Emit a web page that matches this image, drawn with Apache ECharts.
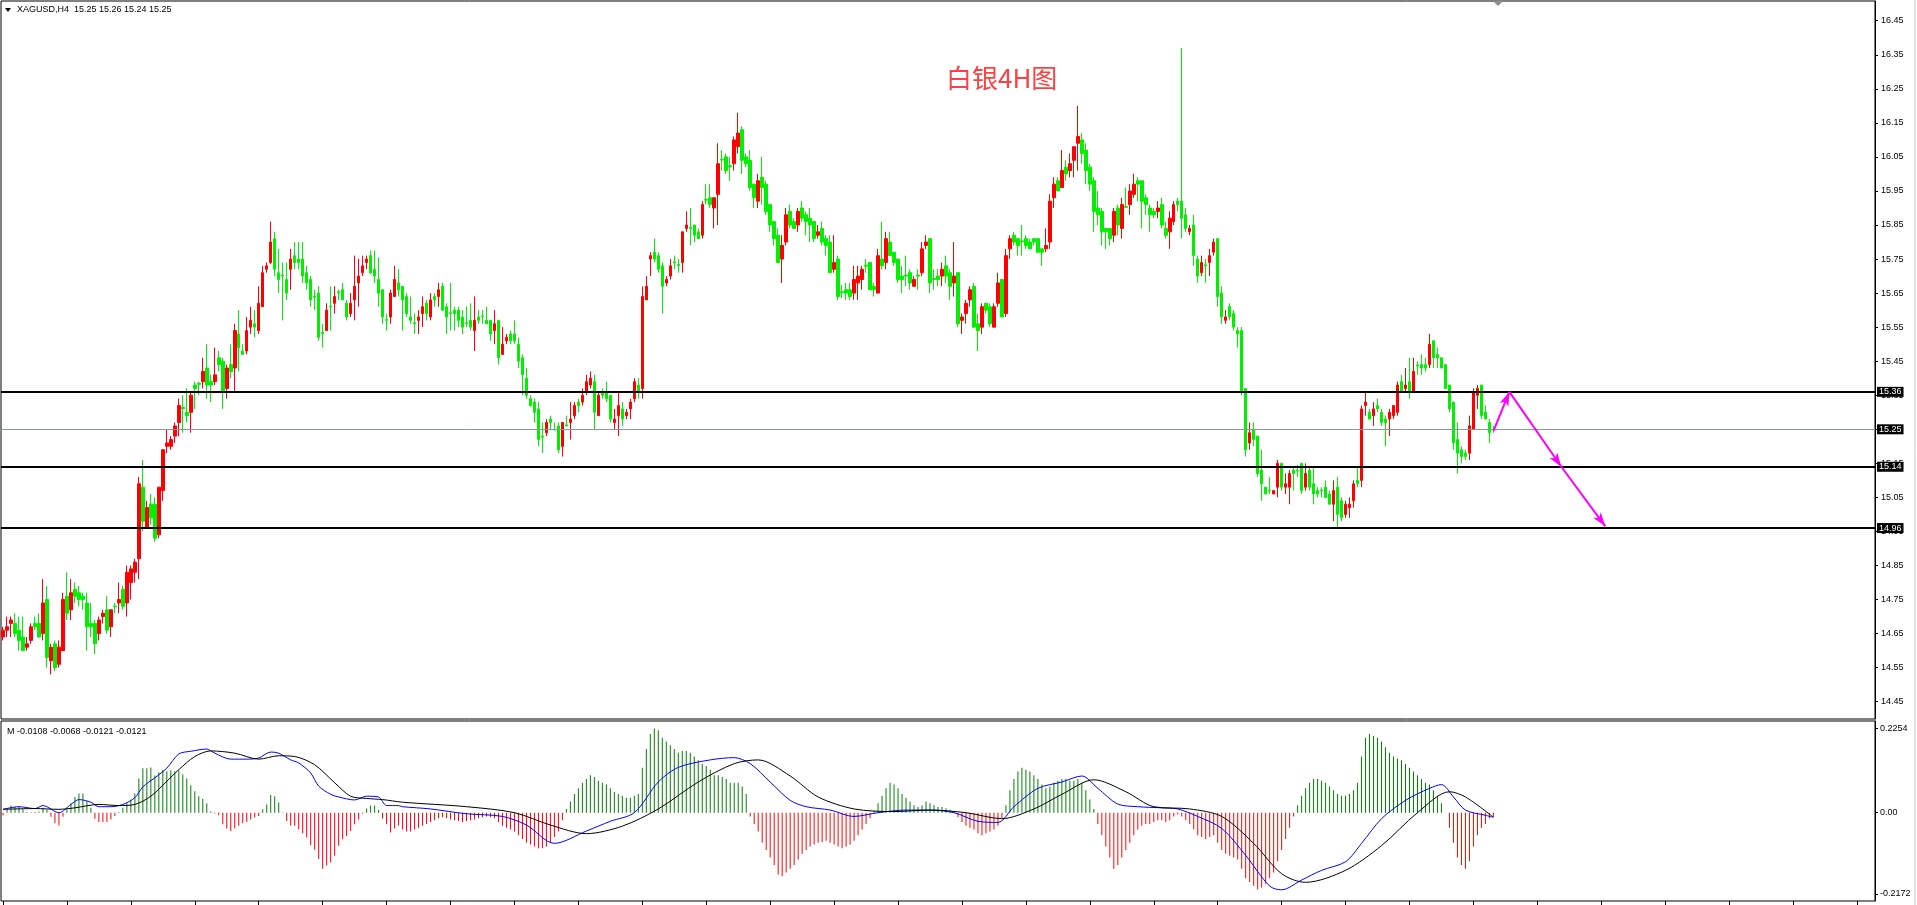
<!DOCTYPE html>
<html lang="zh-CN">
<head>
<meta charset="UTF-8" />
<title>XAGUSD H4</title>
<style>
  * { margin: 0; padding: 0; box-sizing: border-box; }
  #main { width: 1917px; height: 905px; background: #fff; }
</style>
</head>
<body>
<div id="main"></div>
<script src="https://cdn.jsdelivr.net/npm/echarts@6/dist/echarts.min.js"></script>
<script>
// 4H candles (oldest first)
const opens = [
  14.64,14.66,14.68,14.68,14.66,14.64,14.61,14.63,14.68,14.68,
  14.65,14.75,14.57,14.62,14.56,14.60,14.76,14.72,14.78,14.77,
  14.76,14.74,14.68,14.68,14.65,14.70,14.72,14.67,14.731,14.74,
  14.78,14.74,14.80,14.83,14.87,15.08,14.96,15.03,15.03,14.94,
  15.07,15.20,15.20,15.23,15.27,15.314,15.30,15.30,15.38,15.385,
  15.39,15.43,15.39,15.39,15.46,15.45,15.37,15.44,15.43,15.53,
  15.48,15.48,15.55,15.56,15.54,15.61,15.72,15.74,15.81,15.71,
  15.703,15.69,15.72,15.76,15.75,15.75,15.71,15.69,15.641,15.65,
  15.534,15.54,15.612,15.62,15.654,15.66,15.62,15.59,15.63,15.68,
  15.71,15.74,15.76,15.72,15.69,15.66,15.572,15.58,15.64,15.68,
  15.67,15.64,15.58,15.563,15.57,15.59,15.62,15.58,15.64,15.64,
  15.67,15.61,15.592,15.60,15.60,15.58,15.563,15.57,15.54,15.58,
  15.583,15.57,15.57,15.54,15.57,15.47,15.51,15.53,15.53,15.50,
  15.46,15.40,15.34,15.33,15.31,15.230,15.24,15.28,15.250,15.26,
  15.20,15.263,15.27,15.29,15.33,15.33,15.36,15.38,15.39,15.29,
  15.36,15.36,15.35,15.27,15.29,15.31,15.29,15.31,15.34,15.38,
  15.37,15.63,15.75,15.77,15.76,15.73,15.68,15.70,15.742,15.734,
  15.74,15.84,15.843,15.85,15.83,15.82,15.925,15.93,15.90,15.94,
  16.043,16.05,16.024,16.03,16.08,16.13,16.05,16.04,15.97,15.92,
  15.99,15.97,15.91,15.86,15.82,15.75,15.80,15.89,15.86,15.85,
  15.90,15.88,15.87,15.86,15.82,15.84,15.81,15.80,15.72,15.75,
  15.654,15.66,15.66,15.65,15.68,15.69,15.732,15.74,15.67,15.65,
  15.75,15.74,15.80,15.77,15.75,15.70,15.703,15.71,15.67,15.703,
  15.71,15.79,15.81,15.693,15.70,15.70,15.73,15.71,15.68,15.71,
  15.57,15.59,15.63,15.67,15.56,15.55,15.62,15.61,15.55,15.62,
  15.69,15.59,15.78,15.82,15.81,15.803,15.81,15.80,15.81,15.81,
  15.78,15.78,15.80,15.93,15.98,15.96,16.02,16.01,16.04,16.09,
  16.10,16.07,16.02,15.98,15.90,15.89,15.84,15.84,15.82,15.90,
  15.84,15.904,15.91,15.94,15.98,15.98,15.93,15.90,15.89,15.89,
  15.91,15.84,15.83,15.86,15.92,15.92,15.88,15.83,15.85,15.75,
  15.71,15.733,15.74,15.77,15.81,15.65,15.57,15.61,15.59,15.54,
  15.54,15.37,15.21,15.25,15.23,15.13,15.08,15.072,15.06,15.08,
  15.15,15.08,15.08,15.13,15.130,15.15,15.08,15.13,15.09,15.07,
  15.072,15.08,15.06,15.03,15.08,15.04,15.00,15.02,15.04,15.10,
  15.10,15.32,15.30,15.29,15.32,15.30,15.28,15.28,15.29,15.30,
  15.39,15.37,15.39,15.36,15.439,15.44,15.44,15.44,15.51,15.47,
  15.46,15.44,15.38,15.33,15.22,15.19,15.18,15.18,15.25,15.35,
  15.38,15.30,15.27,15.25
];
const closes = [
  14.66,14.67,14.69,14.65,14.63,14.60,14.62,14.67,14.67,14.64,
  14.74,14.58,14.61,14.55,14.61,14.75,14.71,14.77,14.76,14.75,
  14.75,14.67,14.67,14.62,14.69,14.71,14.66,14.72,14.729,14.75,
  14.73,14.83,14.84,14.86,15.09,14.98,15.02,14.99,14.93,15.08,
  15.19,15.21,15.22,15.26,15.32,15.311,15.29,15.35,15.37,15.382,
  15.42,15.38,15.38,15.41,15.44,15.36,15.43,15.42,15.54,15.49,
  15.47,15.54,15.57,15.55,15.62,15.71,15.73,15.80,15.72,15.69,
  15.700,15.65,15.75,15.74,15.74,15.70,15.68,15.63,15.638,15.52,
  15.531,15.60,15.610,15.64,15.651,15.63,15.58,15.62,15.67,15.70,
  15.73,15.75,15.71,15.70,15.65,15.58,15.570,15.65,15.69,15.66,
  15.63,15.59,15.57,15.560,15.58,15.61,15.59,15.63,15.63,15.66,
  15.60,15.58,15.590,15.59,15.57,15.55,15.561,15.55,15.57,15.57,
  15.581,15.56,15.53,15.56,15.46,15.50,15.52,15.51,15.51,15.45,
  15.41,15.35,15.32,15.30,15.22,15.227,15.27,15.27,15.248,15.19,
  15.27,15.260,15.28,15.32,15.32,15.35,15.39,15.40,15.30,15.35,
  15.35,15.34,15.28,15.28,15.32,15.28,15.30,15.33,15.39,15.36,
  15.64,15.67,15.76,15.75,15.72,15.67,15.69,15.73,15.739,15.731,
  15.83,15.85,15.840,15.82,15.81,15.91,15.923,15.91,15.93,16.03,
  16.041,16.01,16.021,16.10,16.12,16.04,16.03,15.96,15.93,15.98,
  15.96,15.89,15.85,15.81,15.74,15.79,15.88,15.85,15.84,15.89,
  15.87,15.86,15.85,15.81,15.83,15.80,15.79,15.71,15.74,15.64,
  15.651,15.65,15.64,15.69,15.70,15.72,15.729,15.66,15.66,15.76,
  15.73,15.81,15.76,15.74,15.69,15.69,15.700,15.68,15.69,15.700,
  15.78,15.80,15.68,15.690,15.69,15.72,15.70,15.67,15.70,15.56,
  15.58,15.62,15.66,15.55,15.54,15.61,15.60,15.56,15.61,15.68,
  15.58,15.76,15.81,15.80,15.79,15.801,15.79,15.78,15.80,15.77,
  15.77,15.79,15.92,15.97,15.95,16.01,16.00,16.03,16.08,16.11,
  16.06,16.01,15.97,15.89,15.88,15.83,15.83,15.81,15.89,15.85,
  15.91,15.902,15.95,15.97,15.97,15.92,15.91,15.88,15.88,15.90,
  15.85,15.82,15.87,15.91,15.91,15.87,15.84,15.84,15.76,15.70,
  15.74,15.730,15.76,15.80,15.64,15.58,15.58,15.58,15.55,15.53,
  15.36,15.19,15.24,15.22,15.12,15.09,15.06,15.070,15.07,15.15,
  15.08,15.09,15.12,15.12,15.128,15.07,15.12,15.08,15.06,15.06,
  15.070,15.05,15.03,15.07,15.00,14.99,15.03,15.03,15.09,15.09,
  15.31,15.33,15.28,15.31,15.31,15.27,15.27,15.30,15.32,15.38,
  15.36,15.38,15.36,15.42,15.436,15.43,15.43,15.50,15.46,15.46,
  15.43,15.37,15.31,15.21,15.18,15.17,15.17,15.26,15.36,15.37,
  15.29,15.28,15.24,15.25
];
const lows = [
  14.63,14.64,14.64,14.64,14.60,14.60,14.60,14.62,14.66,14.64,
  14.63,14.55,14.53,14.54,14.55,14.60,14.69,14.69,14.74,14.73,
  14.72,14.60,14.64,14.59,14.63,14.68,14.65,14.64,14.71,14.71,
  14.72,14.70,14.75,14.80,14.81,14.95,14.96,14.97,14.92,14.93,
  15.04,15.18,15.19,15.21,15.23,15.24,15.27,15.24,15.31,15.35,
  15.37,15.34,15.33,15.38,15.42,15.31,15.34,15.40,15.36,15.42,
  15.47,15.47,15.53,15.52,15.53,15.61,15.71,15.735,15.70,15.65,
  15.57,15.63,15.66,15.72,15.72,15.68,15.66,15.61,15.60,15.51,
  15.49,15.54,15.54,15.59,15.63,15.63,15.57,15.58,15.57,15.61,
  15.70,15.72,15.706,15.68,15.61,15.56,15.54,15.56,15.64,15.64,
  15.54,15.58,15.56,15.53,15.53,15.55,15.57,15.57,15.61,15.61,
  15.60,15.53,15.54,15.54,15.55,15.53,15.55,15.54,15.48,15.56,
  15.56,15.56,15.51,15.50,15.44,15.47,15.50,15.50,15.50,15.43,
  15.35,15.34,15.316,15.27,15.20,15.18,15.23,15.25,15.248,15.18,
  15.17,15.26,15.22,15.28,15.30,15.32,15.35,15.37,15.25,15.29,
  15.34,15.33,15.27,15.25,15.23,15.26,15.28,15.28,15.33,15.34,
  15.34,15.63,15.70,15.74,15.71,15.59,15.67,15.69,15.72,15.71,
  15.71,15.83,15.79,15.80,15.81,15.81,15.91,15.90,15.84,15.85,
  16.01,16.00,15.98,16.01,16.06,16.00,16.02,15.95,15.90,15.90,
  15.91,15.88,15.83,15.79,15.74,15.68,15.79,15.84,15.84,15.83,
  15.86,15.82,15.80,15.80,15.81,15.79,15.76,15.71,15.71,15.63,
  15.635,15.63,15.63,15.63,15.63,15.66,15.71,15.66,15.64,15.65,
  15.72,15.72,15.76,15.73,15.68,15.65,15.67,15.66,15.67,15.66,
  15.70,15.78,15.65,15.66,15.67,15.67,15.68,15.63,15.64,15.55,
  15.53,15.56,15.61,15.55,15.48,15.53,15.59,15.55,15.55,15.61,
  15.58,15.58,15.75,15.79,15.76,15.76,15.78,15.78,15.79,15.77,
  15.73,15.77,15.78,15.90,15.95,15.96,15.98,15.99,15.99,16.01,
  16.03,15.97,15.95,15.83,15.85,15.79,15.78,15.79,15.80,15.82,
  15.81,15.90,15.88,15.93,15.92,15.84,15.88,15.83,15.87,15.87,
  15.84,15.81,15.78,15.85,15.89,15.81,15.83,15.82,15.73,15.68,
  15.70,15.68,15.70,15.76,15.61,15.56,15.56,15.57,15.54,15.49,
  15.35,15.17,15.19,15.20,15.11,15.04,15.06,15.06,15.06,15.05,
  15.07,15.06,15.03,15.07,15.11,15.06,15.07,15.07,15.03,15.05,
  15.05,15.05,15.03,14.98,14.96,14.98,14.99,14.99,15.02,15.08,
  15.08,15.29,15.28,15.26,15.30,15.26,15.20,15.23,15.28,15.29,
  15.36,15.36,15.34,15.36,15.41,15.41,15.42,15.43,15.43,15.43,
  15.43,15.37,15.30,15.19,15.12,15.15,15.16,15.16,15.25,15.31,
  15.28,15.28,15.21,15.24
];
const highs = [
  14.67,14.70,14.70,14.71,14.70,14.70,14.64,14.68,14.70,14.71,
  14.81,14.79,14.62,14.63,14.63,14.77,14.83,14.81,14.80,14.79,
  14.77,14.77,14.74,14.69,14.70,14.72,14.76,14.72,14.74,14.80,
  14.79,14.85,14.85,14.87,15.11,15.16,15.04,15.06,15.05,15.08,
  15.19,15.25,15.23,15.27,15.34,15.35,15.37,15.36,15.39,15.39,
  15.46,15.50,15.41,15.49,15.48,15.46,15.44,15.50,15.56,15.60,
  15.50,15.58,15.61,15.60,15.67,15.73,15.74,15.86,15.83,15.78,
  15.74,15.74,15.78,15.80,15.80,15.80,15.73,15.70,15.66,15.67,
  15.56,15.62,15.67,15.67,15.66,15.68,15.63,15.65,15.76,15.75,
  15.76,15.76,15.775,15.775,15.755,15.66,15.59,15.66,15.73,15.72,
  15.67,15.65,15.64,15.59,15.60,15.64,15.63,15.65,15.65,15.68,
  15.68,15.62,15.68,15.61,15.61,15.60,15.61,15.62,15.64,15.60,
  15.60,15.61,15.57,15.60,15.57,15.55,15.53,15.54,15.57,15.52,
  15.47,15.43,15.35,15.34,15.33,15.27,15.28,15.29,15.27,15.27,
  15.27,15.29,15.33,15.33,15.34,15.37,15.41,15.42,15.41,15.36,
  15.37,15.39,15.35,15.31,15.36,15.33,15.31,15.34,15.40,15.40,
  15.67,15.70,15.77,15.81,15.77,15.74,15.70,15.75,15.76,15.75,
  15.83,15.89,15.90,15.85,15.84,15.92,15.97,15.97,15.93,16.09,
  16.07,16.06,16.05,16.11,16.18,16.14,16.06,16.07,15.97,16.00,
  16.05,15.98,15.91,15.86,15.84,15.82,15.90,15.91,15.87,15.90,
  15.92,15.89,15.90,15.86,15.85,15.86,15.82,15.82,15.82,15.76,
  15.674,15.68,15.68,15.73,15.73,15.73,15.75,15.74,15.68,15.78,
  15.86,15.83,15.83,15.77,15.75,15.73,15.76,15.72,15.70,15.72,
  15.80,15.82,15.81,15.72,15.72,15.74,15.76,15.72,15.80,15.71,
  15.59,15.63,15.67,15.68,15.59,15.62,15.62,15.62,15.62,15.71,
  15.69,15.78,15.82,15.83,15.81,15.85,15.82,15.81,15.81,15.81,
  15.78,15.84,15.94,15.99,15.99,16.07,16.04,16.06,16.08,16.20,
  16.12,16.09,16.03,15.99,15.95,15.90,15.84,15.84,15.90,15.91,
  15.93,15.96,15.97,16.00,15.99,15.98,15.94,15.91,15.90,15.92,
  15.93,15.86,15.89,15.92,15.93,16.37,15.90,15.85,15.88,15.76,
  15.76,15.75,15.78,15.81,15.81,15.67,15.60,15.62,15.60,15.55,
  15.55,15.37,15.27,15.27,15.23,15.19,15.08,15.11,15.07,15.16,
  15.15,15.12,15.13,15.14,15.145,15.15,15.15,15.14,15.14,15.08,
  15.08,15.10,15.07,15.10,15.11,15.05,15.04,15.05,15.10,15.14,
  15.32,15.36,15.31,15.33,15.34,15.31,15.29,15.31,15.32,15.39,
  15.41,15.43,15.46,15.46,15.45,15.47,15.46,15.53,15.51,15.49,
  15.46,15.44,15.38,15.33,15.27,15.20,15.19,15.29,15.37,15.38,
  15.38,15.32,15.28,15.26
];

// price axis tick labels
const priceTicks = [14.45,14.55,14.65,14.75,14.85,14.95,15.05,15.15,15.25,15.35,
  15.45,15.55,15.65,15.75,15.85,15.95,16.05,16.15,16.25,16.35,16.45];
// drawn levels
const levels = [15.36, 15.14, 14.96];
const bidPrice = 15.25;
// forecast arrows: [bar index, price] pairs
const arrows = [
  [[373, 15.245], [377, 15.36]],
  [[377, 15.36], [390, 15.14]],
  [[390, 15.14], [401, 14.965]]
];

// MACD panel
const macdTicks = [-0.2172, 0, 0.2254];
const macdHist = [
  -0.007,0.009,0.019,0.016,0.016,0.009,0.002,0.001,0.002,0.003,
  0.013,0.007,-0.011,-0.028,-0.034,-0.011,0.009,0.025,0.042,0.051,
  0.051,0.031,0.013,-0.016,-0.025,-0.025,-0.025,-0.018,-0.009,0.002,
  0.013,0.025,0.035,0.051,0.091,0.119,0.119,0.121,0.099,0.108,
  0.115,0.111,0.113,0.111,0.113,0.102,0.091,0.073,0.057,0.044,
  0.037,0.025,0.003,-0.002,-0.007,-0.031,-0.042,-0.049,-0.042,-0.035,
  -0.028,-0.025,-0.018,-0.013,-0.009,0.009,0.022,0.047,0.044,0.027,
  0.001,-0.022,-0.034,-0.035,-0.044,-0.055,-0.066,-0.087,-0.099,-0.124,
  -0.150,-0.141,-0.133,-0.115,-0.088,-0.071,-0.062,-0.049,-0.031,-0.018,
  -0.003,0.011,0.019,0.019,0.007,-0.016,-0.031,-0.053,-0.042,-0.034,
  -0.045,-0.05,-0.05,-0.045,-0.04,-0.035,-0.03,-0.025,-0.02,-0.015,
  -0.012,-0.015,-0.018,-0.02,-0.022,-0.025,-0.022,-0.02,-0.018,-0.015,
  -0.012,-0.01,-0.012,-0.015,-0.025,-0.035,-0.04,-0.045,-0.05,-0.06,
  -0.07,-0.08,-0.085,-0.09,-0.095,-0.095,-0.09,-0.08,-0.065,-0.05,
  -0.02,0.01,0.03,0.05,0.065,0.08,0.09,0.10,0.095,0.085,
  0.08,0.075,0.065,0.055,0.05,0.045,0.04,0.04,0.045,0.05,
  0.12,0.17,0.21,0.225,0.22,0.2,0.19,0.18,0.17,0.16,
  0.165,0.165,0.16,0.15,0.14,0.13,0.125,0.115,0.1,0.1,
  0.095,0.09,0.08,0.08,0.08,0.07,0.05,-0.01,-0.03,-0.05,
  -0.08,-0.1,-0.12,-0.14,-0.165,-0.17,-0.16,-0.15,-0.14,-0.125,
  -0.11,-0.1,-0.09,-0.085,-0.08,-0.078,-0.075,-0.08,-0.085,-0.09,
  -0.095,-0.09,-0.085,-0.075,-0.06,-0.045,-0.03,-0.015,0.005,0.025,
  0.045,0.065,0.08,0.075,0.065,0.05,0.04,0.03,0.02,0.015,
  0.02,0.03,0.025,0.02,0.015,0.015,0.012,0.008,0.004,-0.012,
  -0.025,-0.035,-0.04,-0.045,-0.055,-0.06,-0.055,-0.05,-0.045,-0.035,
  -0.015,0.02,0.06,0.09,0.11,0.12,0.115,0.11,0.1,0.09,
  0.075,0.065,0.07,0.08,0.085,0.09,0.09,0.085,0.085,0.09,
  0.08,0.06,0.035,0.01,-0.03,-0.06,-0.09,-0.12,-0.15,-0.14,
  -0.12,-0.1,-0.08,-0.06,-0.045,-0.035,-0.03,-0.03,-0.025,-0.02,
  -0.02,-0.025,-0.02,-0.01,-0.005,-0.01,-0.02,-0.03,-0.045,-0.06,
  -0.065,-0.07,-0.065,-0.06,-0.08,-0.1,-0.11,-0.115,-0.12,-0.125,
  -0.15,-0.175,-0.185,-0.195,-0.205,-0.2,-0.19,-0.175,-0.16,-0.13,
  -0.1,-0.07,-0.04,-0.01,0.02,0.045,0.065,0.08,0.09,0.09,
  0.085,0.08,0.07,0.06,0.05,0.045,0.045,0.05,0.06,0.08,
  0.15,0.2,0.21,0.205,0.2,0.19,0.175,0.16,0.15,0.145,
  0.14,0.13,0.12,0.11,0.1,0.09,0.08,0.075,0.06,0.045,
  0.025,0.0,-0.04,-0.08,-0.12,-0.14,-0.15,-0.13,-0.09,-0.06,
  -0.04,-0.03,-0.015,-0.011
];
// signal lines, [bar index, value] read at turning points
const macdBlue = [
  [0,0.009],[4,0.016],[8,0.011],[10,0.019],[14,0.0],[17,0.022],[19,0.035],[22,0.028],
  [24,0.016],[27,0.016],[30,0.022],[33,0.040],[35,0.069],[38,0.093],[41,0.119],[44,0.157],
  [47,0.164],[51,0.170],[53,0.159],[57,0.143],[61,0.143],[64,0.146],[67,0.162],[69,0.159],
  [72,0.141],[74,0.133],[77,0.106],[79,0.071],[82,0.049],[84,0.042],[88,0.034],[91,0.044],
  [94,0.042],[96,0.019],[99,0.019],[100,0.016],[107,0.010],[116,-0.003],[125,-0.010],
  [131,-0.033],[138,-0.082],[146,-0.049],[152,-0.023],[158,0.0],[164,0.082],[169,0.121],
  [177,0.141],[183,0.147],[187,0.131],[192,0.082],[197,0.033],[201,0.016],[207,0.007],
  [213,-0.010],[219,0.0],[226,0.007],[232,0.007],[238,0.0],[244,-0.023],[249,-0.026],
  [253,0.016],[259,0.065],[265,0.082],[270,0.098],[274,0.065],[279,0.023],[284,0.016],
  [290,0.013],[294,0.010],[299,-0.010],[305,-0.042],[311,-0.114],[317,-0.196],[320,-0.206],
  [325,-0.180],[330,-0.154],[336,-0.131],[340,-0.082],[345,-0.016],[351,0.033],[357,0.065],
  [360,0.075],[363,0.042],[366,0.007],[371,-0.007],[373,-0.012]
];
const macdBlack = [
  [0,0.009],[8,0.011],[14,0.009],[18,0.013],[24,0.022],[29,0.019],[33,0.022],[37,0.044],
  [41,0.084],[44,0.115],[48,0.150],[52,0.165],[58,0.159],[64,0.143],[69,0.152],[73,0.150],
  [78,0.128],[83,0.080],[87,0.044],[91,0.038],[95,0.035],[100,0.028],[116,0.016],[128,0.0],
  [137,-0.033],[146,-0.056],[155,-0.036],[164,0.010],[174,0.082],[183,0.131],[189,0.141],
  [197,0.098],[204,0.042],[213,0.010],[223,0.003],[232,0.007],[241,0.0],[250,-0.016],
  [258,0.010],[265,0.049],[273,0.088],[281,0.056],[288,0.016],[297,0.010],[305,-0.010],
  [313,-0.082],[320,-0.163],[326,-0.186],[336,-0.154],[345,-0.088],[354,0.0],[362,0.056],
  [366,0.042],[373,-0.012]
];

const slotCount = 469;
const slots = Array.from({ length: slotCount }, (_, i) => String(i));
const candles = opens.map((o, i) => [o, closes[i], lows[i], highs[i]]);

const chart = echarts.init(document.getElementById('main'));
const labelFont = { fontFamily: 'Liberation Sans', fontSize: 9, color: '#000' };

const lineMarks = levels.map(v => ({
  yAxis: v,
  lineStyle: { color: '#000', width: 2, type: 'solid' }
}));
lineMarks.push({ yAxis: bidPrice, lineStyle: { color: '#8a96a3', width: 1, type: 'solid' } });
const arrowMarks = arrows.map(a => [
  { coord: a[0], symbol: 'none', lineStyle: { color: '#ff00ff', width: 2, type: 'solid' }, label: { show: false } },
  { coord: a[1], symbol: 'arrow', symbolSize: [7, 14] }
]);

const option = {
  animation: false,
  backgroundColor: '#fff',
  title: {
    text: '白银4H图',
    left: 941,
    top: 60,
    textStyle: { color: '#ff4040', fontSize: 26, fontWeight: 'normal', fontFamily: 'Noto Sans CJK SC' }
  },
  grid: [
    { left: 1, top: 1, width: 1874, height: 718, show: true, borderColor: '#000', borderWidth: 1, containLabel: false, outerBoundsMode: 'none' },
    { left: 1, top: 721, width: 1874, height: 180, show: true, borderColor: '#000', borderWidth: 1, containLabel: false, outerBoundsMode: 'none' }
  ],
  xAxis: [
    { type: 'category', gridIndex: 0, data: slots, boundaryGap: true,
      axisLine: { show: false }, axisTick: { show: false }, axisLabel: { show: false }, splitLine: { show: false } },
    { type: 'category', gridIndex: 1, data: slots, boundaryGap: true, position: 'bottom',
      axisLine: { show: false, onZero: false },
      axisTick: { show: true, interval: 15, alignWithLabel: true, length: 4, lineStyle: { color: '#000' } },
      axisLabel: { show: false }, splitLine: { show: false } }
  ],
  yAxis: [
    { type: 'value', gridIndex: 0, position: 'right', min: 14.3992, max: 16.5079, scale: true,
      axisLine: { show: true, lineStyle: { color: '#000' } },
      axisTick: { show: true, length: 3, customValues: priceTicks, lineStyle: { color: '#000' } },
      axisLabel: { show: true, margin: 6, customValues: priceTicks, formatter: v => v.toFixed(2), ...labelFont },
      splitLine: { show: false } },
    { type: 'value', gridIndex: 1, position: 'right', min: -0.2359, max: 0.2449,
      axisLine: { show: true, lineStyle: { color: '#000' } },
      axisTick: { show: true, length: 3, customValues: macdTicks, lineStyle: { color: '#000' } },
      axisLabel: { show: true, margin: 5, customValues: macdTicks,
        formatter: v => (v === 0 ? '0.00' : v.toFixed(4)), ...labelFont },
      splitLine: { show: false } }
  ],
  graphic: [
    { type: 'polygon', shape: { points: [[5, 8], [11, 8], [8, 12]] }, style: { fill: '#000' } },
    { type: 'text', left: 17, top: 5, style: { text: 'XAGUSD,H4  15.25 15.26 15.24 15.25', font: '9px "Liberation Sans"', fill: '#000' } },
    { type: 'text', left: 7, top: 727, style: { text: 'M -0.0108 -0.0068 -0.0121 -0.0121', font: '9px "Liberation Sans"', fill: '#000' } },
    { type: 'polygon', shape: { points: [[1493, 1], [1503, 1], [1498, 6]] }, style: { fill: '#8c8c8c' } },
    { type: 'line', shape: { x1: 1915, y1: 0, x2: 1915, y2: 905 }, style: { stroke: '#c8c8c8', lineWidth: 1 } }
  ],
  series: [
    {
      name: 'XAGUSD',
      type: 'candlestick',
      xAxisIndex: 0,
      yAxisIndex: 0,
      data: candles,
      barWidth: 3,
      itemStyle: {
        color: '#ff0000', color0: '#00f000',
        borderColor: '#ff0000', borderColor0: '#00f000',
        borderColorDoji: '#00f000', borderWidth: 1
      },
      markLine: {
        silent: true,
        animation: false,
        symbol: 'none',
        precision: 2,
        label: {
          show: true, position: 'end', distance: 2,
          formatter: p => Number(p.value).toFixed(2),
          backgroundColor: '#000', color: '#fff', padding: [1, 2, 0, 2],
          fontFamily: 'Liberation Sans', fontSize: 9
        },
        data: [...lineMarks, ...arrowMarks]
      }
    },
    {
      name: 'hist',
      type: 'bar',
      xAxisIndex: 1,
      yAxisIndex: 1,
      data: macdHist,
      barWidth: 1,
      itemStyle: { color: p => (p.value >= 0 ? '#008000' : '#ff0000') }
    },
    {
      name: 'blue',
      type: 'line',
      xAxisIndex: 1,
      yAxisIndex: 1,
      data: macdBlue,
      showSymbol: false,
      smooth: 0.3,
      lineStyle: { color: '#0000ff', width: 1 }
    },
    {
      name: 'black',
      type: 'line',
      xAxisIndex: 1,
      yAxisIndex: 1,
      data: macdBlack,
      showSymbol: false,
      smooth: 0.3,
      lineStyle: { color: '#000', width: 1 }
    }
  ]
};
chart.setOption(option);
</script>
</body>
</html>
